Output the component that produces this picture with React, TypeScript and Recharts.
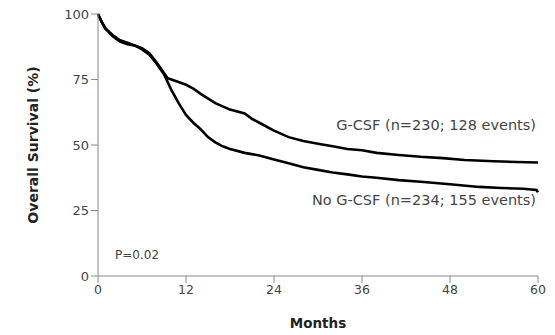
import React from "react";
import { LineChart, Line, XAxis, YAxis, Customized } from "recharts";

const gcsfMonths = [0, 0.5, 1, 2, 3, 4, 5, 6, 7, 8, 9, 9.5, 10.5, 12, 13, 14, 16, 18, 20, 21, 22, 24, 26, 28, 30, 32, 34, 36, 38, 41, 44, 47, 50, 54, 57, 60];
const gcsfSurvival = [100, 97, 94.5, 92, 90, 89, 88, 87, 85, 81.5, 77.5, 75.5, 74.5, 73, 71.5, 69.5, 66, 63.5, 62, 60, 58.5, 55.5, 53, 51.5, 50.5, 49.5, 48.5, 48, 47, 46.2, 45.5, 45, 44.3, 43.8, 43.5, 43.3];

const noGcsfMonths = [0, 0.5, 1, 2, 3, 4, 5, 6, 7, 8, 9, 10, 11, 12, 13, 14, 15, 16, 17, 18, 20, 22, 24, 26, 28, 30, 32, 34, 36, 38, 41, 44, 48, 52, 55, 58, 59.8, 60];
const noGcsfSurvival = [100, 97, 94.5, 91.5, 89.5, 88.5, 88, 86.5, 84.5, 81, 77, 71, 66, 61.5, 58.5, 56, 53, 51, 49.5, 48.5, 47, 46, 44.5, 43, 41.5, 40.5, 39.5, 38.8, 38, 37.5, 36.6, 36, 35, 34, 33.6, 33.3, 32.8, 32];

const xTicks = [0, 12, 24, 36, 48, 60];
const yTicks = [0, 25, 50, 75, 100];

const gcsfData = gcsfMonths.map((m, i) => ({ month: m, value: gcsfSurvival[i] }));
const noGcsfData = noGcsfMonths.map((m, i) => ({ month: m, value: noGcsfSurvival[i] }));

const FONT = "'DejaVu Sans', sans-serif";
const TXT = "#444";

const Annotations = () => (
  <g fontFamily={FONT} fill={TXT}>
    <text x={536} y={126} textAnchor="end" dominantBaseline="middle" fontSize={14.5}>
      G-CSF (n=230; 128 events)
    </text>
    <text x={536} y={201} textAnchor="end" dominantBaseline="middle" fontSize={14.5}>
      No G-CSF (n=234; 155 events)
    </text>
    <text x={115} y={255} textAnchor="start" dominantBaseline="middle" fontSize={12}>
      P=0.02
    </text>
    <text
      x={34}
      y={145}
      textAnchor="middle"
      dominantBaseline="middle"
      fontSize={14}
      fontWeight="bold"
      fill="#222"
      transform="rotate(-90 34 145)"
    >
      Overall Survival (%)
    </text>
    <text x={318} y={324} textAnchor="middle" dominantBaseline="middle" fontSize={13.5} fontWeight="bold" fill="#222">
      Months
    </text>
  </g>
);

export default function App() {
  return (
    <div style={{ position: "absolute", left: 0, top: 0, background: "#fff" }}>
      <LineChart width={555} height={335} margin={{ top: 14, right: 17, bottom: 29, left: 58 }}>
        <XAxis
          type="number"
          dataKey="month"
          domain={[0, 60]}
          ticks={xTicks}
          allowDuplicatedCategory={false}
          height={30}
          stroke="#888"
          tickSize={7}
          tickMargin={2}
          tick={{ fill: TXT, fontSize: 12.5, fontFamily: FONT }}
        />
        <YAxis
          type="number"
          domain={[0, 100]}
          ticks={yTicks}
          width={40}
          stroke="#888"
          tickSize={7}
          tickMargin={2}
          tick={{ fill: TXT, fontSize: 13, fontFamily: FONT }}
        />
        <Line
          data={gcsfData}
          dataKey="value"
          type="linear"
          stroke="#000"
          strokeWidth={2.6}
          dot={false}
          isAnimationActive={false}
        />
        <Line
          data={noGcsfData}
          dataKey="value"
          type="linear"
          stroke="#000"
          strokeWidth={2.6}
          dot={false}
          isAnimationActive={false}
        />
        <Customized component={Annotations} />
      </LineChart>
    </div>
  );
}
